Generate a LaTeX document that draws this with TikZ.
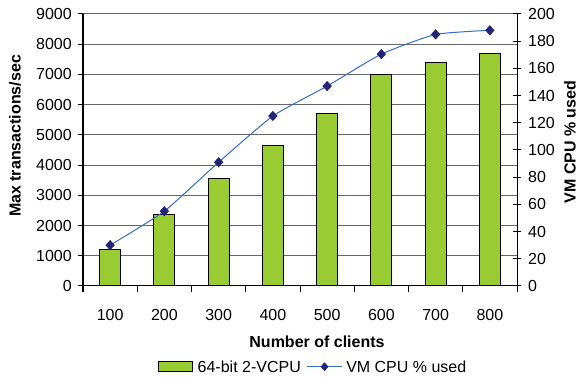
\documentclass[tikz,border=0pt]{standalone}
\usepackage{fontspec}
\setmainfont{Liberation Sans}
\usepackage{tikz}
\usetikzlibrary{shapes.geometric,positioning,calc}
\definecolor{barGreen}{RGB}{153,204,51}
\definecolor{cpuBlue}{RGB}{51,110,200}
\definecolor{cpuNavy}{RGB}{35,35,120}

\begin{document}
\begin{tikzpicture}[x=1pt, y=1pt,
    grid/.style={draw=black!60, line width=1pt},
    axis/.style={draw=black, line width=1pt},
    bar/.style={draw=black, line width=1pt, fill=barGreen},
    cpuline/.style={draw=cpuBlue, line width=1pt},
    cpumark/.style={diamond, fill=cpuNavy, inner sep=0pt, minimum width=9.5pt, minimum height=10.5pt},
    num/.style={font=\fontsize{16}{18}\selectfont, inner sep=0pt},
    title/.style={font=\fontsize{16}{18}\selectfont\bfseries, inner sep=0pt}
]
\useasboundingbox (-83,-93) rectangle (498,286);

\foreach \k in {1,...,9}
    \draw[grid] (0,{\k*272/9}) -- (434,{\k*272/9});

\foreach \v [count=\i] in {1200,2350,3550,4650,5700,7000,7400,7700}
    \draw[bar] ({\i*54.25-37.625},0) rectangle ++(21,{\v/9000*272});

\draw[axis] (0,272) -- (0,0) -- (434,0) -- (434,272);

\foreach \k [evaluate=\k as \v using int(\k*1000)] in {0,...,9} {
    \draw[axis] (-5,{\k*272/9}) -- (0,{\k*272/9});
    \node[num, anchor=east] (tps\k) at (-11,{\k*272/9}) {\v};
}
\foreach \k [evaluate=\k as \v using int(\k*20)] in {0,...,10} {
    \draw[axis] (430,{\k*27.2}) -- (438,{\k*27.2});
    \node[num, anchor=west] (cpu\k) at (445,{\k*27.2}) {\v};
}
\foreach \i in {0,...,8}
    \draw[axis] ({\i*54.25},0) -- ({\i*54.25},-6);
\foreach \i [evaluate=\i as \n using int(\i*100)] in {1,...,8}
    \node[num] (clients\i) at ({\i*54.25-27.125},-29) {\n};

\node[title, rotate=90] (ylab) at (-68,150) {Max transactions/sec};
\node[title, rotate=90] (y2lab) at (487,144) {VM CPU \% used};
\node[title] (xlab) at (234,-56) {Number of clients};

\foreach \v [count=\i] in {30,55,91,125,147,170.5,185,188}
    \coordinate (p\i) at ({\i*54.25-27.125},{\v*1.36});
\draw[cpuline] plot[smooth, tension=0.3] coordinates {(p1) (p2) (p3) (p4) (p5) (p6) (p7) (p8)};
\foreach \i in {1,...,8}
    \node[cpumark] (m\i) at (p\i) {};

\node[bar, minimum width=34pt, minimum height=10pt, inner sep=0pt] (keybar) at (92,-80.7) {};
\node[num, right=5pt of keybar] (keybartext) {64-bit 2-VCPU};
\coordinate[right=6pt of keybartext] (keyA);
\coordinate[right=35pt of keyA] (keyB);
\draw[cpuline] (keyA) -- (keyB);
\node[cpumark, minimum width=8pt, minimum height=9pt] (keymark) at ($(keyA)!0.5!(keyB)$) {};
\node[num, right=4pt of keyB] (keycputext) {VM CPU \% used};

\end{tikzpicture}
\end{document}
